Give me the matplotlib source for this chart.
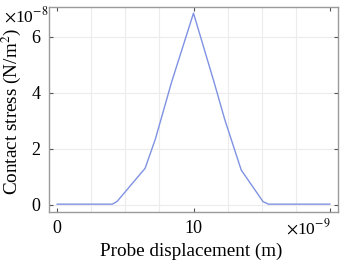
import matplotlib
matplotlib.use("Agg")
import matplotlib.pyplot as plt
import numpy as np

# data (x in 1e-9 m, y in 1e-8 N/m^2)
disp = [0.0, 4.05, 4.4, 6.45, 7.2, 8.4, 10.0, 11.5, 12.3, 13.5, 15.1, 15.5, 20.0]
stress = [0.03, 0.03, 0.13, 1.31, 2.35, 4.4, 6.85, 4.4, 3.04, 1.25, 0.12, 0.03, 0.03]
xticks = [0, 10, 20]
xticklabels = ["0", "10", ""]
yticks = [0, 2, 4, 6]

plt.rcParams['font.family'] = ['Liberation Serif', 'DejaVu Serif']
plt.rcParams['mathtext.fontset'] = 'stix'

fig = plt.figure(figsize=(3.46, 2.66), dpi=100)
ax = fig.add_axes([49/346, 1-212/266, (338-49)/346, (212-7)/266])

ax.plot(disp, stress, color='#7f92e2', lw=1.0)

ax.set_xlim(-0.6, 20.6)
ax.set_ylim(-0.25, 7.07)
ax.set_xticks(xticks)
ax.set_xticklabels(xticklabels)
ax.set_yticks(yticks)
ax.set_xticks(np.arange(0, 20.1, 2.5), minor=True)
ax.grid(True, which='minor', axis='x', color='#ececec', lw=0.8)
ax.grid(True, which='major', axis='y', color='#ececec', lw=0.8)
ax.set_axisbelow(True)
ax.tick_params(which='major', direction='in', length=3, width=0.8, color='#555555',
               top=True, right=True, labelsize=13, pad=6)
ax.tick_params(which='minor', length=0)
for s in ax.spines.values():
    s.set_color('#9a9a9a')
    s.set_linewidth(1.0)

ax.set_xlabel('Probe displacement (m)', fontsize=13.8)
ax.xaxis.set_label_coords((191-49)/289, (212-243)/205)
ax.set_ylabel('Contact stress (N/m$^2$)', fontsize=13.8)
ax.yaxis.set_label_coords((23-49)/289, (212-111)/205)

fig.text(4/346, 1-16/266, r'$\times$10$^{-8}$', fontsize=12.5, va='center', ha='left')
fig.text(286/346, 1-228/266, r'$\times$10$^{-9}$', fontsize=12.5, va='center', ha='left')

fig.savefig('out.png', dpi=100)
